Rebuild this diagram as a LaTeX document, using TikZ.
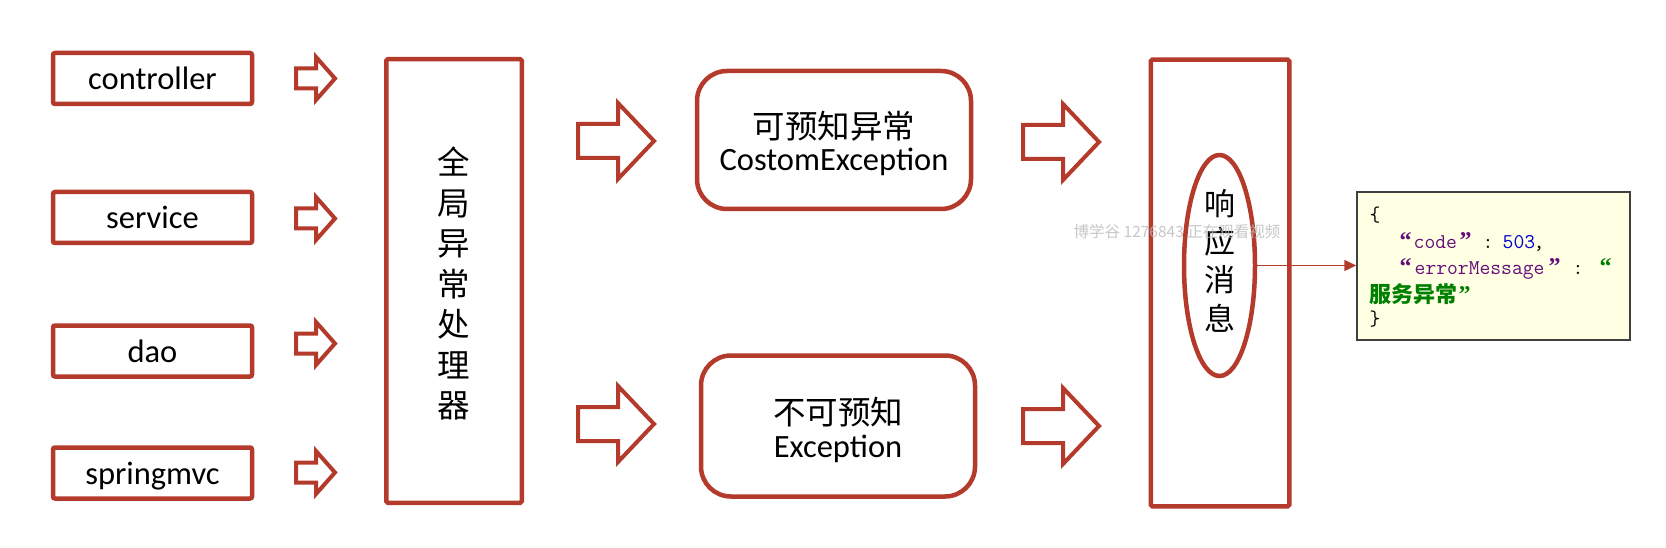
\documentclass[tikz,border=0pt]{standalone}
\usepackage{fontspec}
\setmainfont{Carlito}
\newfontfamily\cjk{Noto Sans CJK SC}
\newfontfamily\qfont{Liberation Serif}
\usetikzlibrary{shapes.geometric,arrows.meta}
\definecolor{brick}{RGB}{180,58,44}
\definecolor{jsonbg}{RGB}{255,255,228}
\definecolor{jsonpurple}{RGB}{102,14,122}
\definecolor{jsonblue}{RGB}{0,0,205}
\definecolor{jsongreen}{RGB}{0,128,0}
\definecolor{jsonframe}{RGB}{64,64,64}
\newcommand\blkarrow[6]{%
  \draw[blockarrow] (#1,#4-#5) -- (#2,#4-#5) -- (#2,#4-#6) -- (#3,#4)
    -- (#2,#4+#6) -- (#2,#4+#5) -- (#1,#4+#5) -- cycle;}
\newcommand\jat[2]{\rlap{\hspace*{#1pt}#2}}
\tikzset{
  lbox/.style={draw=brick, line width=4.5pt, rounded corners=2pt,
    minimum width=199pt, minimum height=51pt, inner sep=0pt,
    text height=23pt, text depth=0pt, font=\fontsize{32.5}{39}\selectfont},
  sbox/.style={draw=brick, line width=4.5pt, rounded corners=1.5pt, inner sep=0pt},
  rbox/.style={draw=brick, line width=4.5pt, rounded corners=30pt,
    minimum width=274pt, inner sep=0pt},
  lab/.style={anchor=base, inner sep=0pt, font=\fontsize{32.5}{39}\selectfont},
  cjklab/.style={anchor=base, inner sep=0pt, font=\cjk\fontsize{32.5}{39}\selectfont},
  vtext/.style={align=center, inner sep=0pt},
  blockarrow/.style={draw=brick, line width=4pt, line join=miter, fill=white},
  conn/.style={draw=brick, line width=1.5pt, -{Triangle[length=12pt,width=11pt]}},
  jsonbox/.style={draw=jsonframe, fill=jsonbg, line width=1.5pt,
    minimum width=273pt, minimum height=148pt, inner sep=0pt},
  jline/.style={anchor=base west, inner sep=0pt, font=\ttfamily\fontsize{21}{26}\selectfont},
  jq/.style={},
  wmark/.style={text=gray!55, opacity=0.8, inner sep=0pt,
    font=\cjk\fontsize{15.5}{16}\selectfont}
}
\begin{document}
\begin{tikzpicture}[x=1pt,y=-1pt]
\fill[white] (0,0) rectangle (1666,548);
\useasboundingbox (0,0) rectangle (1666,548);

% left source boxes
\node[lbox] (ctrl) at (152.5,78.5) {controller};
\node[lbox] (serv) at (152.5,217.5) {service};
\node[lbox] (dao)  at (152.5,351) {dao};
\node[lbox] (mvc)  at (152.5,473) {springmvc};

% small block arrows
\blkarrow{296}{316}{335}{78.5}{10}{21.5}
\blkarrow{296}{316}{335}{218.5}{10}{21.5}
\blkarrow{296}{316}{335}{343.5}{10}{21.5}
\blkarrow{296}{316}{335}{472.5}{10}{21.5}

% global handler
\node[sbox, minimum width=135.5pt, minimum height=443.5pt] (glob) at (454,281) {};
\node[vtext, font=\cjk\fontsize{32.5}{40.5}\selectfont] (globtxt) at (454,283.5)
  {全\\局\\异\\常\\处\\理\\器};

% middle block arrows
\blkarrow{578}{618}{654}{141}{17}{38}
\blkarrow{578}{618}{654}{424}{17}{38}

% exception boxes
\node[rbox, minimum height=138pt] (known) at (834,140) {};
\node[cjklab] (knownA) at (834,139) {可预知异常};
\node[lab] (knownB) at (834,171) {CostomException};
\node[rbox, minimum height=141pt] (unknown) at (838,426) {};
\node[cjklab] (unknownA) at (838,424) {不可预知};
\node[lab] (unknownB) at (838,457) {Exception};

% right block arrows
\blkarrow{1023}{1063}{1099}{142}{17}{38}
\blkarrow{1023}{1063}{1099}{426}{17}{38}

% response box
\node[sbox, minimum width=138.5pt, minimum height=446.5pt] (respbox) at (1220,283) {};
\node[ellipse, draw=brick, line width=4.5pt, minimum width=71pt,
  minimum height=221pt, inner sep=0pt] (resp) at (1219.5,265.5) {};
\node[vtext, font=\cjk\fontsize{31}{38.3}\selectfont] (resptxt) at (1219.5,260.5)
  {响\\应\\消\\息};

% json box
\node[jsonbox] (json) at (1493.5,266) {};
\draw[conn] (resp.east) -- (resp.east -| json.west);

\node[jline] (j1) at (1369,222) {\jat{0}{\{}};
\node[jline] (j2) at (1369,249) {%
  \jat{30}{\color{jsonpurple}\qfont\bfseries\fontsize{24}{26}\selectfont “}%
  \jat{44}{\color{jsonpurple}code}%
  \jat{90}{\color{jsonpurple}\qfont\bfseries\fontsize{24}{26}\selectfont ”}%
  \jat{113}{:}%
  \jat{133}{\color{jsonblue}503}%
  \jat{164}{,}};
\node[jline] (j3) at (1369,275) {%
  \jat{30}{\color{jsonpurple}\qfont\bfseries\fontsize{24}{26}\selectfont “}%
  \jat{45}{\color{jsonpurple}errorMessage}%
  \jat{179}{\color{jsonpurple}\qfont\bfseries\fontsize{24}{26}\selectfont ”}%
  \jat{203}{:}%
  \jat{230}{\color{jsongreen}\qfont\bfseries\fontsize{24}{26}\selectfont “}};
\node[jline] (j4) at (1369,302) {%
  \jat{0}{\color{jsongreen}\cjk\bfseries\fontsize{22}{26}\selectfont 服务异常}%
  \jat{89}{\color{jsongreen}\qfont\bfseries\fontsize{24}{26}\selectfont ”}};
\node[jline] (j5) at (1369,325) {\jat{0}{\}}};

% watermark
\node[wmark] (wm) at (1177,232) {博学谷 1276843 正在观看视频};
\end{tikzpicture}
\end{document}
